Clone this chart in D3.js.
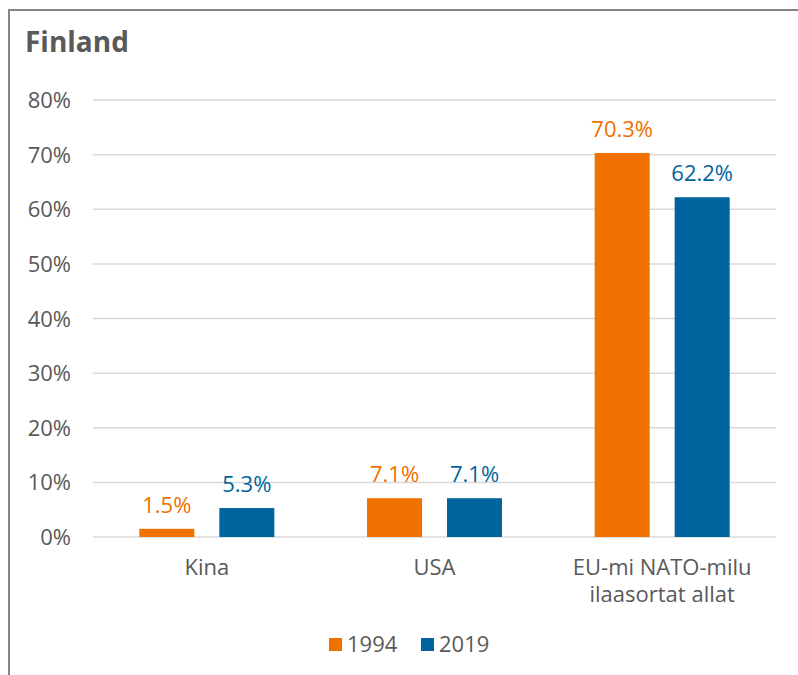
<!DOCTYPE html>
<html><head><meta charset="utf-8">
<script src="https://cdn.jsdelivr.net/npm/d3@7"></script>
<style>body{margin:0;background:#fff}svg{display:block}text{font-family:"Open Sans",sans-serif}</style>
</head><body><svg id="c" width="798" height="675"></svg>
<script>
const title = "Finland";
const categories = [["Kina"], ["USA"], ["EU-mi NATO-milu", "ilaasortat allat"]];
const seriesNames = ["1994", "2019"];
const values1994 = [1.5, 7.1, 70.3];
const values2019 = [5.3, 7.1, 62.2];
const yTicks = [0, 10, 20, 30, 40, 50, 60, 70, 80];
const colors = ["#F07000", "#00659E"];

const svg = d3.select("#c");
svg.append("rect").attr("x", 9).attr("y", 10).attr("width", 820).attr("height", 700)
  .attr("fill", "none").attr("stroke", "#858585").attr("stroke-width", 2);
svg.append("text").attr("x", 25).attr("y", 52).text(title)
  .attr("font-size", 28).attr("font-weight", "bold").attr("fill", "#595959");

const x0 = d3.scaleBand().domain(d3.range(categories.length)).range([93, 776]);
const y = d3.scaleLinear().domain([0, 80]).range([537, 100]);

const g = svg.append("g");
g.selectAll("line.grid").data(yTicks).join("line").attr("class", "grid")
  .attr("x1", 93).attr("x2", 776).attr("y1", d => y(d)).attr("y2", d => y(d))
  .attr("stroke", "#d9d9d9").attr("stroke-width", 1.5);
g.selectAll("text.tick").data(yTicks).join("text").attr("class", "tick")
  .attr("x", 71).attr("y", d => y(d) + 8).attr("text-anchor", "end")
  .attr("font-size", 22).attr("fill", "#595959").text(d => d + "%");

const series = [values1994, values2019];
const barW = 55, off = 40;
series.forEach((vals, si) => {
  const dx = si === 0 ? -off : off;
  g.selectAll("rect.s" + si).data(vals).join("rect").attr("class", "s" + si)
    .attr("x", (d, i) => x0(i) + x0.bandwidth() / 2 + dx - barW / 2)
    .attr("width", barW)
    .attr("y", d => y(d)).attr("height", d => y(0) - y(d))
    .attr("fill", colors[si]);
  g.selectAll("text.l" + si).data(vals).join("text").attr("class", "l" + si)
    .attr("x", (d, i) => x0(i) + x0.bandwidth() / 2 + dx)
    .attr("y", d => y(d) - 16).attr("text-anchor", "middle")
    .attr("font-size", 22).attr("fill", colors[si]).text(d => d.toFixed(1) + "%");
});

categories.forEach((lines, i) => {
  const t = g.append("text").attr("text-anchor", "middle").attr("font-size", 22).attr("fill", "#595959");
  lines.forEach((ln, j) => t.append("tspan").attr("x", x0(i) + x0.bandwidth() / 2).attr("y", 575 + j * 27).text(ln));
});

const leg = svg.append("g");
const legX = [329, 421];
seriesNames.forEach((s, i) => {
  leg.append("rect").attr("x", legX[i]).attr("y", 638).attr("width", 13).attr("height", 13).attr("fill", colors[i]);
  leg.append("text").attr("x", legX[i] + 18).attr("y", 652).attr("font-size", 22).attr("fill", "#595959").text(s);
});
</script></body></html>
